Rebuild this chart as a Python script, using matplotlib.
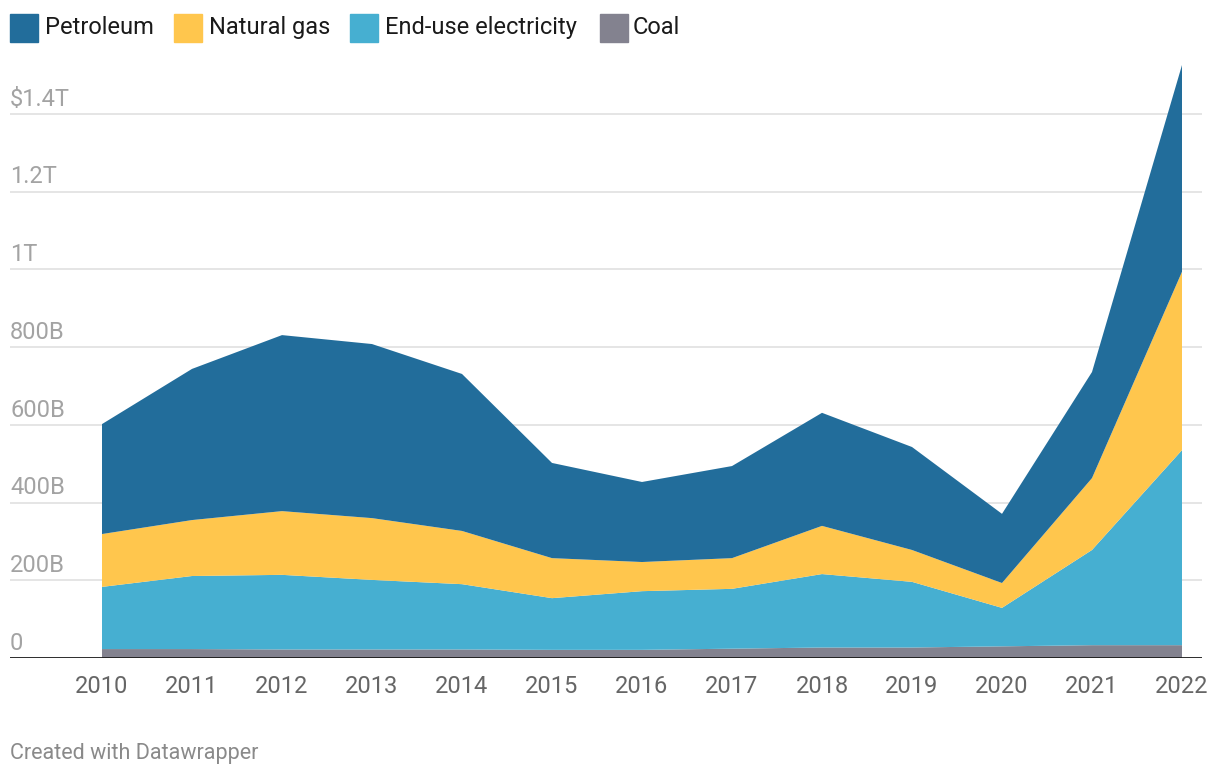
import matplotlib.pyplot as plt
from matplotlib.patches import Rectangle

plt.rcParams['font.family'] = ['Roboto', 'DejaVu Sans']

years = [2010, 2011, 2012, 2013, 2014, 2015, 2016, 2017, 2018, 2019, 2020, 2021, 2022]
# annual spending, billions of dollars
coal = [23, 23, 22, 22, 22, 21, 21, 24, 27, 27, 30, 33, 33]
electricity = [160, 188, 192, 179, 168, 133, 151, 154, 189, 169, 99, 245, 502]
natural_gas = [136, 144, 164, 159, 137, 103, 75, 79, 124, 82, 64, 185, 459]
petroleum = [283, 389, 453, 448, 404, 245, 206, 237, 291, 265, 178, 273, 532]

series_names = ['Petroleum', 'Natural gas', 'End-use electricity', 'Coal']
colors = ['#226d9b', '#ffc64d', '#46afd1', '#83828f']

ytick_vals = [0, 200, 400, 600, 800, 1000, 1200, 1400]
ytick_labels = ['0', '200B', '400B', '600B', '800B', '1T', '1.2T', '$1.4T']

fig = plt.figure(figsize=(12.2, 7.76), dpi=100)
ax = fig.add_axes([10 / 1220, 1 - 658 / 776, 1192 / 1220, 598 / 776])

ax.stackplot(years, coal, electricity, natural_gas, petroleum,
             colors=[colors[3], colors[2], colors[1], colors[0]],
             linewidth=0, zorder=3)

ax.set_xlim(2010 - 92 / 90, 2022 + 20 / 90)
ax.set_ylim(0, 1539)

for v, lab in zip(ytick_vals, ytick_labels):
    if v > 0:
        ax.axhline(v, color='#e3e3e3', lw=1.3, zorder=1)
    ax.annotate(lab, xy=(0, v), xycoords=('axes fraction', 'data'),
                xytext=(0, 6), textcoords='offset points',
                ha='left', va='baseline', fontsize=17, color='#a3a3a3')

ax.axhline(0, color='#1a1a1a', lw=2, zorder=4)

ax.set_yticks([])
ax.set_xticks(years)
ax.set_xticklabels([str(y) for y in years], fontsize=17, color='#666666')
ax.tick_params(axis='x', length=0, pad=12)
for s in ax.spines.values():
    s.set_visible(False)

# legend
sq_x = [10, 174, 350, 600]
txt_x = [45, 209, 385, 633]
for name, c, sx, tx in zip(series_names, colors, sq_x, txt_x):
    fig.patches.append(Rectangle((sx / 1220, 1 - 42 / 776), 28 / 1220, 28 / 776,
                                 transform=fig.transFigure, color=c))
    fig.text(tx / 1220, 1 - 34 / 776, name, fontsize=17, color='#1a1a1a',
             ha='left', va='baseline')

fig.text(10 / 1220, 1 - 754 / 776, 'Created with Datawrapper', fontsize=15.5,
         color='#8a8a8a', ha='left', va='center')

fig.savefig('out.png', dpi=100)
